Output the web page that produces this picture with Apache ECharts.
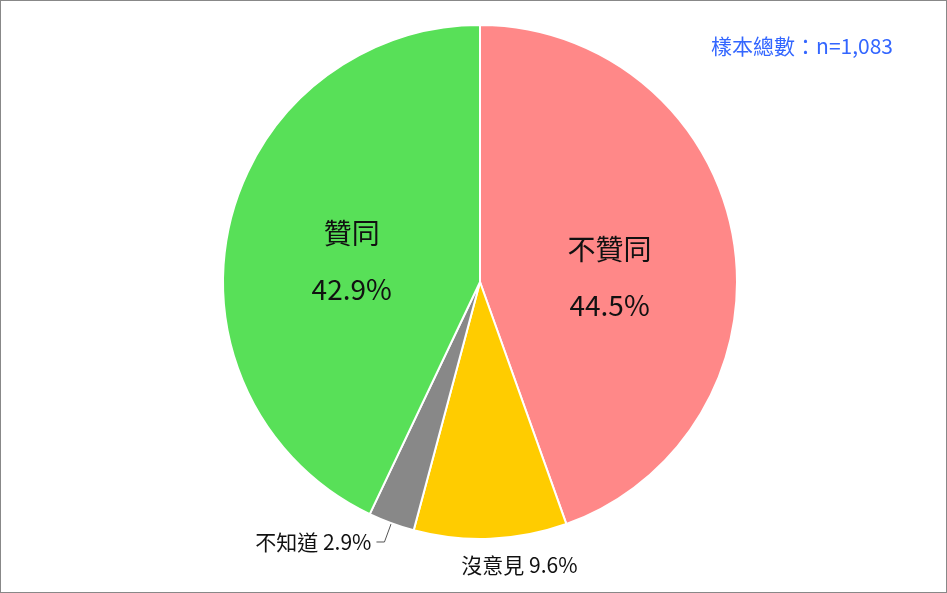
<!DOCTYPE html><html><head><meta charset="utf-8">
<script src="https://cdn.jsdelivr.net/npm/echarts@6/dist/echarts.min.js"></script>
<style>html,body{margin:0;padding:0;}#c{width:945px;height:591px;border:1px solid #888;}</style>
</head><body><div id="c"></div><script>
var categories=['不贊同','沒意見','不知道','贊同'];
var values=[44.5,9.6,2.9,42.9];
var colors=['#ff8888','#ffcc00','#888888','#58e058'];
var chart=echarts.init(document.getElementById('c'));
var data=categories.map(function(n,i){
  var big=values[i]>20;
  return {name:n,value:values[i],itemStyle:{color:colors[i]},
    label:big?{position:'inside',fontSize:28,lineHeight:56,color:'#111',formatter:'{b}\n{c}%'}
             :{position:'outside',fontSize:21,color:'#111',formatter:'{b} {c}%'},
    labelLine:{show:!big&&i===2,length:20,length2:8,lineStyle:{color:'#555'}}};
});
var shifts={0:[0,18],1:[-43,6],3:[0,8]};
chart.setOption({
  title:{text:'樣本總數：n=1,083',right:48,top:30,textStyle:{color:'#3366ff',fontSize:21,fontWeight:'normal',fontFamily:'Noto Sans CJK TC'}},
  textStyle:{fontFamily:'Noto Sans CJK TC'},
  series:[{type:'pie',center:[479,281],radius:257,startAngle:90,clockwise:true,
    itemStyle:{borderColor:'#fff',borderWidth:2},animation:false,data:data,
    labelLayout:function(p){var s=shifts[p.dataIndex];if(!s)return {};return {dx:s[0],dy:s[1]};},
    labelLine:{length:8,length2:0}}]
});
</script></body></html>
